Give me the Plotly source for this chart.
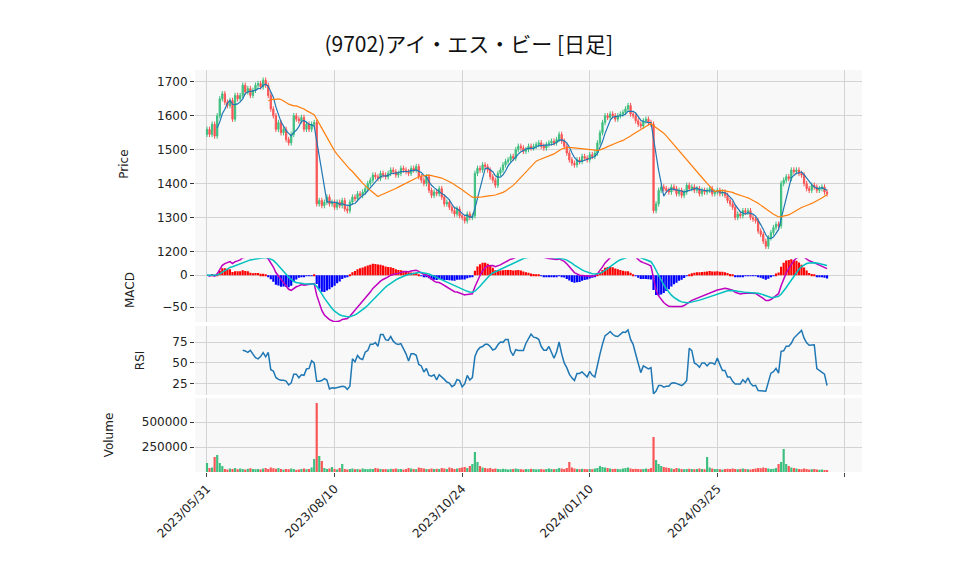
import numpy as np
import pandas as pd
import plotly.graph_objects as go
from plotly.subplots import make_subplots

tick_labels = ["2023/05/31", "2023/08/10", "2023/10/24", "2024/01/10", "2024/03/25", ""]
tick_pos = [0, 50, 100, 150, 200, 250]

close = [1560,1545,1575,1540,1600,1650,1665,1640,1630,1645,
         1590,1660,1650,1660,1690,1670,1680,1660,1675,1690,
         1695,1685,1705,1690,1660,1620,1600,1560,1580,1550,
         1560,1530,1520,1545,1600,1590,1585,1595,1560,1575,
         1560,1575,1580,1340,1350,1335,1345,1360,1340,1345,
         1330,1345,1335,1350,1325,1320,1345,1360,1355,1370,
         1365,1375,1385,1400,1410,1425,1420,1415,1430,1425,
         1420,1430,1440,1435,1425,1430,1445,1440,1435,1430,
         1445,1440,1450,1420,1410,1400,1420,1380,1365,1375,
         1370,1385,1360,1340,1345,1330,1320,1310,1325,1305,
         1300,1290,1310,1300,1305,1430,1445,1440,1455,1450,
         1440,1420,1410,1395,1430,1440,1455,1465,1470,1480,
         1475,1500,1510,1505,1495,1500,1510,1505,1510,1515,
         1520,1510,1505,1515,1520,1525,1520,1530,1545,1525,
         1510,1490,1470,1460,1455,1470,1465,1480,1475,1470,
         1485,1480,1490,1520,1550,1580,1600,1595,1605,1600,
         1590,1600,1605,1610,1620,1630,1605,1600,1585,1575,
         1570,1585,1590,1580,1575,1320,1340,1380,1390,1385,
         1380,1375,1390,1385,1370,1380,1365,1375,1395,1385,
         1390,1380,1385,1370,1380,1375,1380,1385,1370,1375,
         1380,1370,1375,1365,1350,1340,1330,1300,1310,1305,
         1320,1315,1320,1300,1295,1290,1260,1250,1230,1215,
         1240,1255,1270,1280,1275,1400,1410,1420,1415,1440,
         1435,1440,1430,1425,1400,1385,1380,1395,1390,1380,
         1385,1390,1375,1370]

first_open = 1545

volume = [90000,40000,45000,150000,170000,90000,60000,30000,25000,35000,
          30000,40000,28000,35000,30000,25000,32000,38000,30000,28000,
          30000,26000,35000,40000,30000,45000,38000,32000,40000,30000,
          25000,30000,28000,35000,30000,22000,25000,30000,35000,28000,
          30000,45000,130000,690000,160000,110000,40000,30000,35000,50000,
          30000,25000,40000,80000,30000,25000,30000,35000,28000,30000,
          25000,35000,30000,28000,32000,30000,40000,35000,30000,28000,
          30000,26000,32000,30000,35000,28000,30000,25000,30000,40000,
          35000,30000,28000,45000,40000,35000,30000,28000,35000,30000,
          32000,30000,40000,35000,30000,45000,38000,30000,35000,40000,
          45000,50000,40000,60000,80000,200000,100000,60000,45000,40000,
          35000,40000,30000,35000,30000,28000,32000,30000,25000,28000,
          30000,35000,30000,28000,25000,30000,28000,32000,30000,26000,
          28000,30000,25000,30000,35000,30000,28000,30000,40000,35000,
          30000,40000,100000,45000,35000,30000,28000,32000,30000,28000,
          30000,28000,35000,40000,60000,50000,45000,40000,35000,30000,
          32000,30000,28000,35000,40000,45000,35000,30000,32000,30000,
          28000,30000,35000,30000,40000,350000,120000,80000,60000,50000,
          45000,40000,35000,30000,40000,35000,30000,28000,30000,32000,
          30000,28000,30000,35000,30000,28000,150000,45000,35000,30000,
          30000,28000,25000,30000,32000,30000,35000,30000,28000,30000,
          35000,30000,28000,25000,30000,35000,40000,38000,45000,40000,
          35000,30000,32000,40000,80000,100000,230000,80000,60000,45000,
          40000,35000,30000,28000,35000,30000,25000,28000,30000,25000,
          22000,25000,20000,18000]

n = len(close)
x = list(range(n))
c = pd.Series(close, dtype=float)
o = pd.Series([first_open] + close[:-1], dtype=float)
hi = np.maximum(o, c) + 8
lo = np.minimum(o, c) - 8

ma5 = c.rolling(5).mean()
ma25 = c.rolling(25).mean()
ema12 = c.ewm(span=12, adjust=False).mean()
ema26 = c.ewm(span=26, adjust=False).mean()
macd = ema12 - ema26
signal = macd.ewm(span=9, adjust=False).mean()
hist = macd - signal
d = c.diff()
up = d.clip(lower=0).rolling(14).mean()
dn = (-d.clip(upper=0)).rolling(14).mean()
rsi = 100 * up / (up + dn)

GREEN = "#3dbf7f"
RED = "#fa5555"

fig = make_subplots(rows=4, cols=1, shared_xaxes=True, vertical_spacing=0)
fig.add_trace(go.Candlestick(x=x, open=o, high=hi, low=lo, close=c,
    increasing=dict(line=dict(color=GREEN, width=1), fillcolor=GREEN),
    decreasing=dict(line=dict(color=RED, width=1), fillcolor=RED),
    whiskerwidth=0, showlegend=False), row=1, col=1)
fig.add_trace(go.Scatter(x=x, y=ma5, mode="lines", line=dict(color="#1f77b4", width=1.2), showlegend=False), row=1, col=1)
fig.add_trace(go.Scatter(x=x, y=ma25, mode="lines", line=dict(color="#ff7f0e", width=1.2), showlegend=False), row=1, col=1)

hcol = ["#ff0000" if v >= 0 else "#0000ff" for v in hist]
fig.add_trace(go.Bar(x=x, y=hist, marker_color=hcol, marker_line_width=0, showlegend=False), row=2, col=1)
fig.add_trace(go.Scatter(x=x, y=macd, mode="lines", line=dict(color="#c000c0", width=1.5), showlegend=False), row=2, col=1)
fig.add_trace(go.Scatter(x=x, y=signal, mode="lines", line=dict(color="#00c0c0", width=1.5), showlegend=False), row=2, col=1)

fig.add_trace(go.Scatter(x=x, y=rsi, mode="lines", line=dict(color="#1f77b4", width=1.5), showlegend=False), row=3, col=1)

vcol = [GREEN if close[i] >= (close[i-1] if i > 0 else first_open) else RED for i in range(n)]
fig.add_trace(go.Bar(x=x, y=volume, marker_color=vcol, marker_line_width=0, showlegend=False), row=4, col=1)

grid = "#d3d3d3"
bg = "#f8f8f8"
fig.update_layout(
    width=958, height=575, margin=dict(l=187, r=104, t=62, b=111, autoexpand=False),
    paper_bgcolor="white", plot_bgcolor=bg, bargap=0.15,
    font=dict(family="DejaVu Sans, Noto Sans CJK JP", size=12, color="#222"),
    title=dict(text="(9702)アイ・エス・ビー [日足]", x=0.481, xanchor="center",
               yref="container", y=1 - 37/575, yanchor="middle",
               font=dict(family="Noto Sans CJK JP", size=21, color="#111")),
)
for r in range(1, 5):
    fig.update_xaxes(row=r, col=1, range=[-4.7, 256.7], tickvals=tick_pos, ticktext=tick_labels,
                     showgrid=True, gridcolor=grid, zeroline=False, showline=False,
                     rangeslider_visible=False, showticklabels=(r == 4),
                     ticks="outside" if r == 4 else "", ticklen=4, tickangle=-45,
                     tickfont=dict(size=12))
fig.update_yaxes(row=1, col=1, domain=[0.532, 1.0], range=[1180, 1735], tickvals=[1200,1300,1400,1500,1600,1700],
                 title_text="Price")
fig.update_yaxes(row=2, col=1, domain=[0.373, 0.532], range=[-73, 26.5], tickvals=[-50, 0], title_text="MACD")
fig.update_yaxes(row=3, col=1, domain=[0.192, 0.363], range=[12, 94], tickvals=[25, 50, 75], title_text="RSI")
fig.update_yaxes(row=4, col=1, domain=[0.0, 0.184], range=[0, 740000], tickvals=[250000, 500000],
                 tickformat="d", title_text="Volume")
fig.update_yaxes(showgrid=True, gridcolor=grid, zeroline=False, ticks="outside", ticklen=4,
                 tickcolor="#333", title_font=dict(size=12), title_standoff=25, automargin=False)
fig.write_html("out.html")
